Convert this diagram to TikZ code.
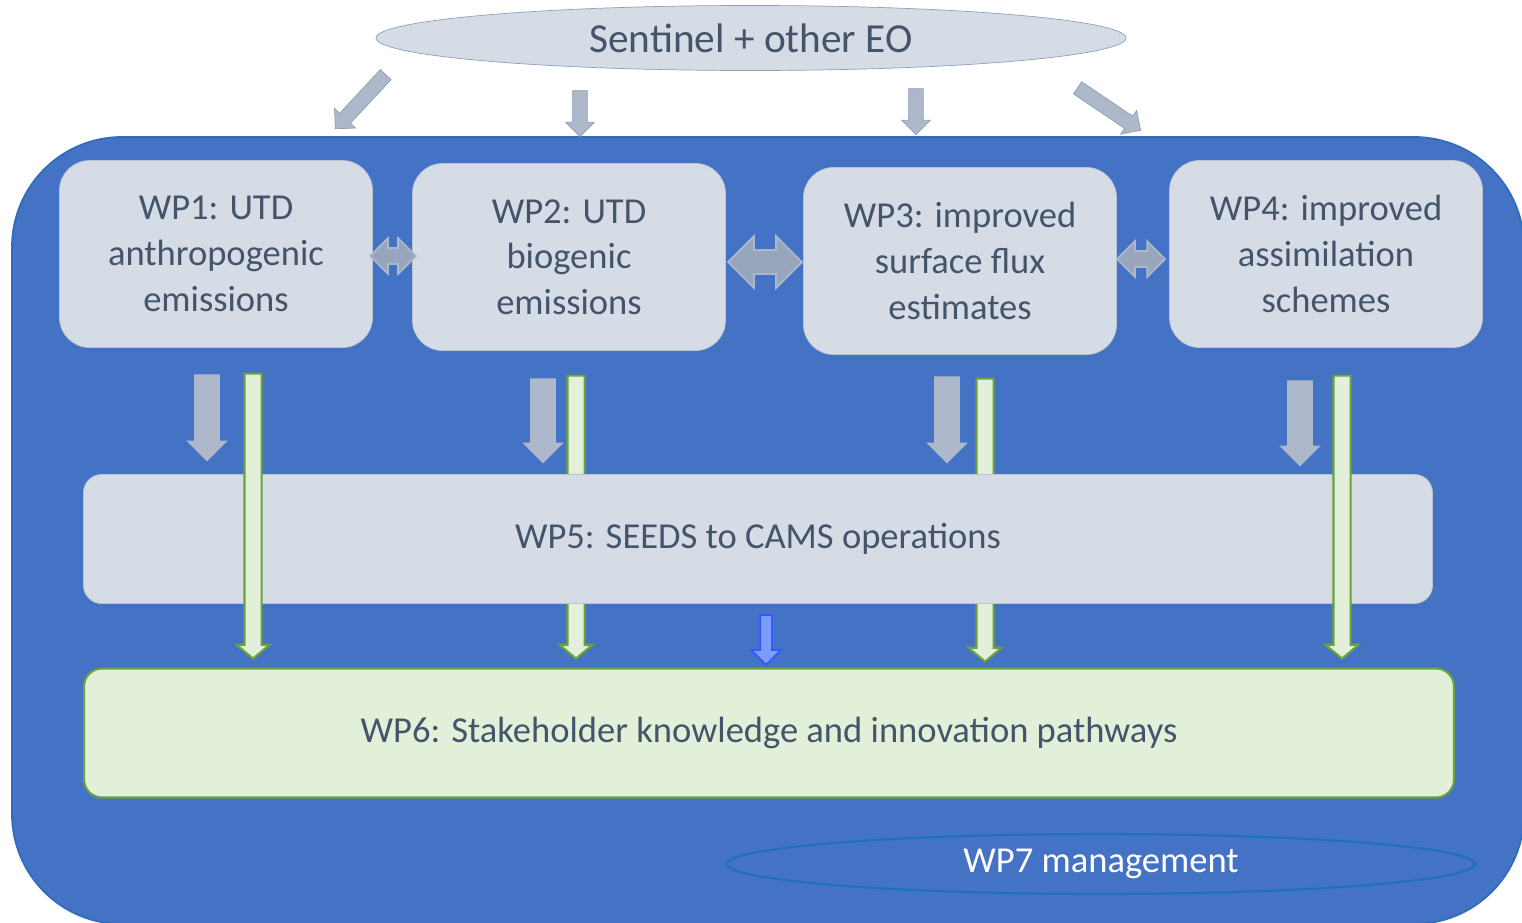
\documentclass[tikz,border=0pt]{standalone}
\usepackage{fontspec}
\setmainfont{Carlito}
\usetikzlibrary{shapes.geometric,shapes.arrows}

\definecolor{bgblue}{HTML}{4472C4}
\definecolor{bgedge}{HTML}{2F6DB8}
\definecolor{boxgray}{HTML}{D6DCE5}
\definecolor{boxedge}{HTML}{B9C3D1}
\definecolor{textgray}{HTML}{44546A}
\definecolor{arrowgray}{HTML}{ADB9CA}
\definecolor{arrowedge}{HTML}{8FA0B8}
\definecolor{linkgray}{HTML}{97A6BD}
\definecolor{greenfill}{HTML}{E2F0D9}
\definecolor{greenedge}{HTML}{6AA33A}
\definecolor{bluefill}{HTML}{7E9CFF}
\definecolor{blueedge}{HTML}{2F5BFF}
\definecolor{mgmtedge}{HTML}{1F6FC0}

\newcommand\pxl{0.02cm}

\begin{document}
\begin{tikzpicture}[x=0.02cm, y=-0.02cm,
    font=\fontsize{20.8}{26}\selectfont,
    wpbox/.style={rectangle, rounded corners=0.6cm, fill=boxgray, draw=boxedge,
      text=textgray, align=center, inner sep=0pt,
      minimum width=313*\pxl, minimum height=187*\pxl},
    widebox/.style={rectangle, rounded corners=0.36cm, inner sep=0pt,
      minimum height=129*\pxl},
    eoarrow/.style={single arrow, rotate=#1, fill=arrowgray, draw=arrowedge,
      inner sep=0pt, inner ysep=7*\pxl, single arrow head extend=7*\pxl,
      minimum width=0pt},
    grayarrow/.style={single arrow, rotate=-90, fill=arrowgray, draw=none,
      inner sep=0pt, inner ysep=12.5*\pxl, single arrow head extend=8*\pxl,
      minimum width=0pt},
    greenarrow/.style={single arrow, rotate=-90, fill=greenfill, draw=greenedge,
      line width=1.2pt, inner sep=0pt, inner ysep=7.5*\pxl,
      single arrow head extend=8*\pxl, single arrow tip angle=100, minimum width=0pt},
    linkarrow/.style={double arrow, fill=linkgray, draw=arrowgray, line width=1pt,
      inner sep=0pt, minimum width=0pt}]
  \useasboundingbox (0,0) rectangle (1522,923);

  % Background panel
  \begin{scope}
    \clip (0,0) rectangle (1522,923);
    \draw[fill=bgblue, draw=bgedge, line width=1pt, rounded corners=2.2cm]
      (12,137) rectangle (1524,924);
  \end{scope}

  % Earth observation input
  \node[ellipse, fill=boxgray, draw=arrowedge, text=textgray, inner sep=0pt,
    minimum width=750*\pxl, minimum height=65*\pxl,
    font=\fontsize{23.5}{28}\selectfont] (eo) at (751,38) {Sentinel + other EO};

  \node[eoarrow=227, minimum height=74*\pxl] (eo1) at (363,99) {};
  \node[eoarrow=-90, minimum height=46*\pxl] (eo2) at (580,110) {};
  \node[eoarrow=-90, minimum height=46*\pxl] (eo3) at (916,108) {};
  \node[eoarrow=-34, minimum height=76*\pxl] (eo4) at (1106,107) {};

  % Work packages 1-4
  \node[wpbox] (wp1) at (216,254) {WP1: UTD\\anthropogenic\\emissions};
  \node[wpbox] (wp2) at (569,257) {WP2: UTD\\biogenic\\emissions};
  \node[wpbox] (wp3) at (960,261) {WP3: improved\\surface flux\\estimates};
  \node[wpbox] (wp4) at (1326,254) {WP4: improved\\assimilation\\schemes};

  % Links between work packages
  \node[linkarrow, inner ysep=7*\pxl, double arrow head extend=10*\pxl,
    minimum height=46*\pxl] (l12) at (393,256) {};
  \node[linkarrow, inner ysep=11*\pxl, double arrow head extend=14*\pxl,
    minimum height=74*\pxl] (l23) at (765,262) {};
  \node[linkarrow, inner ysep=7*\pxl, double arrow head extend=10*\pxl,
    minimum height=48*\pxl] (l34) at (1141,259) {};

  % Gray arrows towards WP5
  \foreach \x/\ya/\yb [count=\i] in {207/368/455, 543/372/457, 947/370/457, 1300/374/460}
    \node[grayarrow, minimum height={(\yb-\ya)*\pxl}] (g\i) at (\x,{(\ya+\yb)/2}) {};

  % Green arrows passing behind WP5
  \foreach \x/\ya/\yb/\n in {576/372/655/2, 985/375/658/3}
    \node[greenarrow, minimum height={(\yb-\ya)*\pxl}] (gr\n) at (\x,{(\ya+\yb)/2}) {};

  % WP5
  \node[widebox, fill=boxgray, draw=boxedge, text=textgray,
    minimum width=1349*\pxl] (wp5) at (758,539) {WP5: SEEDS to CAMS operations};

  % Green arrows passing over WP5
  \foreach \x/\ya/\yb/\n in {253/370/655/1, 1342/372/655/4}
    \node[greenarrow, minimum height={(\yb-\ya)*\pxl}] (gr\n) at (\x,{(\ya+\yb)/2}) {};

  \node[single arrow, rotate=-90, fill=bluefill, draw=blueedge, line width=1pt,
    inner sep=0pt, inner ysep=5*\pxl, single arrow head extend=9*\pxl,
    minimum width=0pt, minimum height=50*\pxl] (b5) at (766,637) {};

  % WP6
  \node[widebox, fill=greenfill, draw=greenedge, line width=1.2pt, text=textgray,
    minimum width=1370*\pxl] (wp6) at (769,733)
    {WP6: Stakeholder knowledge and innovation pathways};

  % WP7
  \node[ellipse, draw=mgmtedge, line width=1.2pt, text=white, inner sep=0pt,
    minimum width=748*\pxl, minimum height=60*\pxl] (wp7) at (1101,864) {WP7 management};
\end{tikzpicture}
\end{document}
